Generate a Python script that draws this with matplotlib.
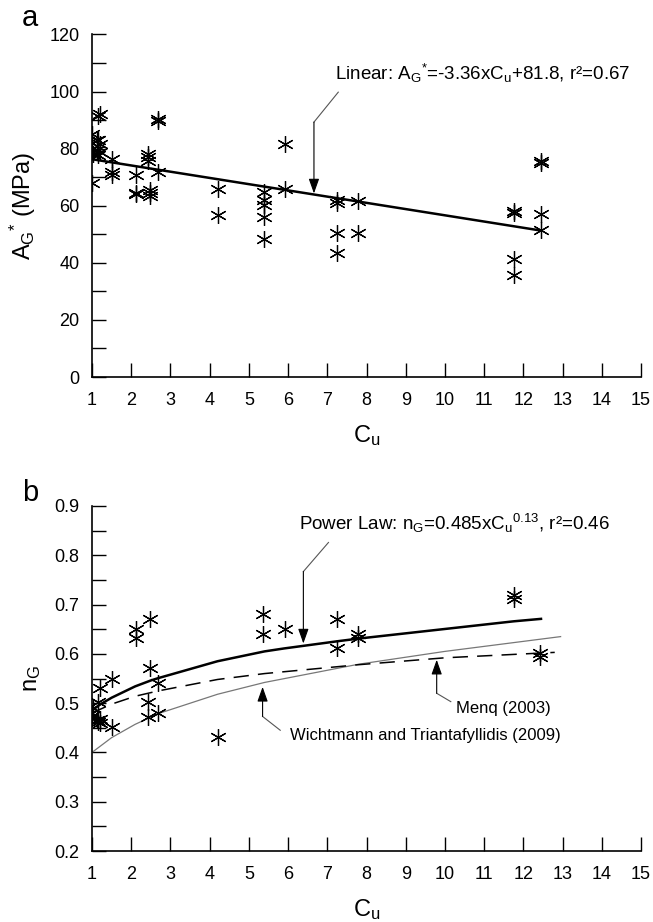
import matplotlib
matplotlib.use("Agg")
import matplotlib.pyplot as plt

plt.rcParams['font.family'] = ['Liberation Sans', 'DejaVu Sans']
plt.rcParams['mathtext.fontset'] = 'custom'
plt.rcParams['mathtext.rm'] = 'Liberation Sans'
plt.rcParams['mathtext.it'] = 'Liberation Sans:italic'

# ---------------- data: panel a ----------------
a_cu = [1.0, 1.0, 1.0, 1.03, 1.0, 1.12, 1.12, 1.16, 1.16, 1.16, 1.2, 1.2, 1.2,
        1.51, 1.51, 1.51, 2.11, 2.11, 2.13, 2.43, 2.43, 2.43, 2.47, 2.47, 2.49,
        2.68, 2.68, 2.68, 4.22, 4.22, 5.38, 5.38, 5.38, 5.38, 5.38, 5.91, 5.91,
        7.26, 7.26, 7.26, 7.26, 7.78, 7.78, 11.75, 11.75, 11.75, 11.75,
        12.44, 12.44, 12.44, 12.44]
a_val = [85.3, 82.0, 80.0, 78.0, 67.8, 83.0, 79.7, 91.3, 82.9, 77.7, 92.0, 81.8, 78.8,
         76.5, 71.8, 70.7, 70.7, 64.5, 64.0, 78.2, 77.1, 75.6, 65.4, 64.3, 63.3,
         90.5, 89.7, 71.8, 65.8, 56.9, 64.8, 61.9, 60.2, 55.9, 48.5, 81.5, 65.7,
         61.9, 60.8, 50.3, 43.6, 61.6, 50.6, 58.2, 57.4, 41.3, 35.6,
         75.6, 75.0, 57.1, 51.4]
a_fit_cu = [1.0, 12.45]
a_fit_val = [76.3, 51.3]

# ---------------- data: panel b ----------------
b_cu = [1.0, 1.0, 1.02, 1.16, 1.2, 1.12, 1.16, 1.2, 1.2,
        1.52, 1.51, 2.11, 2.11, 2.47, 2.47, 2.43, 2.43, 2.68, 2.68,
        4.22, 5.35, 5.35, 5.91, 7.26, 7.26, 7.78, 7.78,
        11.75, 11.75, 12.43, 12.43]
b_val = [0.479, 0.473, 0.490, 0.503, 0.530, 0.465, 0.462, 0.459, 0.468,
         0.550, 0.451, 0.650, 0.632, 0.671, 0.572, 0.503, 0.471, 0.541, 0.479,
         0.431, 0.681, 0.640, 0.650, 0.671, 0.611, 0.640, 0.632,
         0.720, 0.712, 0.602, 0.594]

power_cu = [1.0, 1.2, 1.5, 2.1, 2.5, 2.7, 4.2, 5.4, 5.9, 7.3, 7.8, 11.75, 12.45]
power_n = [0.485, 0.497, 0.511, 0.534, 0.546, 0.551, 0.585, 0.605, 0.611, 0.626,
           0.631, 0.666, 0.671]
wicht_cu = [1.0, 1.5, 2.1, 2.7, 4.2, 5.4, 7.8, 10.0, 12.95]
wicht_n = [0.400, 0.430, 0.457, 0.479, 0.518, 0.542, 0.579, 0.605, 0.635]
menq_cu = [1.0, 1.5, 2.1, 2.7, 4.2, 5.4, 7.8, 10.0, 12.8]
menq_n = [0.480, 0.498, 0.514, 0.525, 0.548, 0.560, 0.578, 0.592, 0.603]

x_ticks = list(range(1, 16))
a_yticks = list(range(0, 121, 20))
a_yminor = list(range(10, 120, 20))
b_yticks = [0.2, 0.3, 0.4, 0.5, 0.6, 0.7, 0.8, 0.9]
b_yminor = [0.25, 0.35, 0.45, 0.55, 0.65, 0.75, 0.85]

W, H = 653, 922
fig = plt.figure(figsize=(W / 100, H / 100), dpi=100)

L, R = 92, 641
ax_a = fig.add_axes([L / W, 1 - 377 / H, (R - L) / W, (377 - 34.5) / H])
ax_b = fig.add_axes([L / W, 1 - 851 / H, (R - L) / W, (851 - 506) / H])

ast = (6, 2, 0)
TICKFS = 13
ANNFS = 13.5
LABFS = 17


def style(ax):
    for s in ['top', 'right']:
        ax.spines[s].set_visible(False)
    for s in ['left', 'bottom']:
        ax.spines[s].set_linewidth(1.2)
    ax.set_xlim(1, 15)
    ax.set_xticks(x_ticks)
    ax.tick_params(which='both', direction='in', length=10, width=1.0,
                   labelsize=TICKFS, pad=9)
    ax.tick_params(axis='x', pad=11)


def arrow(ax, pts, color='#555555'):
    xs = [p[0] for p in pts]
    ys = [p[1] for p in pts]
    ax.plot(xs[:-1], ys[:-1], color=color, lw=0.8, zorder=4)
    ax.annotate('', xy=pts[-1], xytext=pts[-2],
                arrowprops=dict(arrowstyle='-|>,head_length=0.9,head_width=0.32',
                                color='black', lw=0.8, shrinkA=0, shrinkB=0),
                zorder=4)


# ---- panel a ----
style(ax_a)
ax_a.set_ylim(0, 120)
ax_a.set_yticks(a_yticks)
ax_a.set_yticks(a_yminor, minor=True)
ax_a.plot(a_cu, a_val, linestyle='none', marker=ast, markersize=12,
          markeredgewidth=0.9, color='black', zorder=3)
ax_a.plot(a_fit_cu, a_fit_val, color='black', lw=1.8, zorder=2)
arrow(ax_a, [(7.28, 99.8), (6.66, 89.3), (6.66, 64.3)])
ax_a.text(7.19, 106.2,
          r'Linear: A$_\mathregular{G}$$^\mathregular{*}$=-3.36xC$_\mathregular{u}$+81.8, r²=0.67',
          fontsize=ANNFS, va='center', ha='left')
ax_a.set_xlabel(r'C$_\mathregular{u}$', fontsize=LABFS, labelpad=10)
ax_a.set_ylabel(r'A$_\mathregular{G}$$^\mathregular{*}$ (MPa)', fontsize=LABFS, labelpad=8)
fig.text(22 / W, 1 - 18 / H, 'a', fontsize=21, ha='left', va='center')

# ---- panel b ----
style(ax_b)
ax_b.set_ylim(0.2, 0.9)
ax_b.set_yticks(b_yticks)
ax_b.set_yticklabels([f'{v:.1f}' for v in b_yticks])
ax_b.set_yticks(b_yminor, minor=True)
ax_b.plot(b_cu, b_val, linestyle='none', marker=ast, markersize=12,
          markeredgewidth=0.9, color='black', zorder=3)
ax_b.plot(power_cu, power_n, color='black', lw=1.8, zorder=2)
ax_b.plot(wicht_cu, wicht_n, color='#777777', lw=0.9, zorder=2)
ax_b.plot(menq_cu, menq_n, color='black', lw=1.1, dashes=(10, 6), zorder=2)
arrow(ax_b, [(7.03, 0.826), (6.39, 0.767), (6.39, 0.621)])
arrow(ax_b, [(10.15, 0.503), (9.79, 0.520), (9.79, 0.588)])
arrow(ax_b, [(5.80, 0.445), (5.35, 0.473), (5.35, 0.533)])
ax_b.text(6.27, 0.864,
          r'Power Law: n$_\mathregular{G}$=0.485xC$_\mathregular{u}$$^\mathregular{0.13}$, r²=0.46',
          fontsize=ANNFS, va='center', ha='left')
ax_b.text(10.27, 0.489, 'Menq (2003)', fontsize=12, va='center', ha='left')
ax_b.text(6.06, 0.435, 'Wichtmann and Triantafyllidis (2009)', fontsize=12,
          va='center', ha='left')
ax_b.set_xlabel(r'C$_\mathregular{u}$', fontsize=LABFS, labelpad=10)
ax_b.set_ylabel(r'n$_\mathregular{G}$', fontsize=LABFS, labelpad=8)
fig.text(22 / W, 1 - 493 / H, 'b', fontsize=21, ha='left', va='center')

fig.savefig('out.png', dpi=100)
